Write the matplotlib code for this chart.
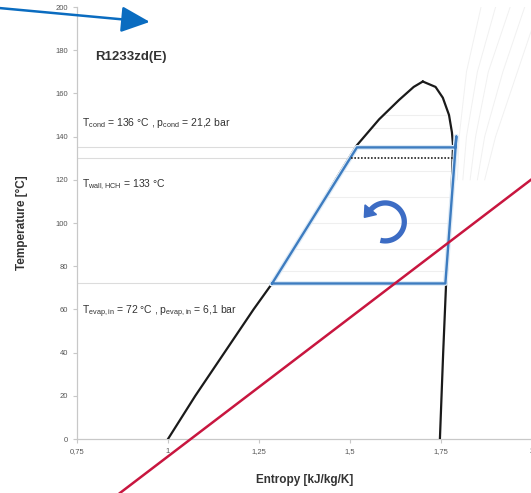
import numpy as np
import matplotlib
matplotlib.use("Agg")
import matplotlib.pyplot as plt
from matplotlib.patches import Polygon
from matplotlib.transforms import ScaledTranslation

plt.rcParams['font.family'] = ['Liberation Sans', 'DejaVu Sans']
plt.rcParams['mathtext.fontset'] = 'custom'
plt.rcParams['mathtext.rm'] = 'Liberation Sans'

# saturation dome of R1233zd(E)
liq_T = [0, 20, 40, 60, 72, 100, 120, 136, 148, 157, 163, 165.5]
liq_s = [1.0, 1.075, 1.155, 1.235, 1.286, 1.39, 1.46, 1.519, 1.58, 1.635, 1.675, 1.70]
vap_T = [165.5, 163, 158, 150, 142, 136, 120, 100, 72, 40, 0]
vap_s = [1.70, 1.735, 1.755, 1.772, 1.78, 1.783, 1.78, 1.775, 1.764, 1.756, 1.747]

# cycle (blue)
cyc_s = [1.286, 1.519, 1.79, 1.792, 1.79, 1.762, 1.286]
cyc_T = [72, 135, 135, 140, 135, 72, 72]
T_cond = 135
T_wall = 130
T_evap = 72

# faint background isotherms / isobars
dome_levels = [150, 144, 124, 112, 100, 88, 78]
iso_T = [200, 170, 140, 120]
iso_s = [[1.86, 1.82, 1.80, 1.795],
         [1.90, 1.85, 1.82, 1.81],
         [1.94, 1.88, 1.845, 1.83],
         [1.98, 1.92, 1.87, 1.85],
         [2.02, 1.96, 1.90, 1.87]]

# overlay marks
red_s = [0.868, 1.997]
red_T = [-25, 120]
arrow_start = (0.538, 199.5)
arrow_end = (0.95, 193.1)
rot_center = (1.597, 100.5)

xticks = [0.75, 1.0, 1.25, 1.5, 1.75, 2.0]
xtick_labels = ['0,75', '1', '1,25', '1,5', '1,75', '2']
yticks = list(range(0, 201, 20))

fig = plt.figure(figsize=(5.31, 4.93), dpi=100)
ax = fig.add_axes([77 / 531, 54 / 493, 455 / 531, 432 / 493])
ax.set_xlim(0.75, 2.0)
ax.set_ylim(0, 200)

def liq_at(T):
    return np.interp(T, liq_T, liq_s)

def vap_at(T):
    return np.interp(T, vap_T[::-1], vap_s[::-1])

# background faint lines
for c in iso_s:
    ax.plot(c, iso_T, color='#f1f1f1', lw=0.7, zorder=1)
for T in dome_levels:
    ax.plot([liq_at(T), vap_at(T)], [T, T], color='#efefef', lw=0.8, zorder=1)
for T in [T_cond, T_wall, T_evap]:
    ax.plot([0.75, liq_at(T)], [T, T], color='#dcdcdc', lw=0.8, zorder=1)

# dome
ax.plot(liq_s, liq_T, color='#1a1a1a', lw=1.6, zorder=3)
ax.plot(vap_s, vap_T, color='#1a1a1a', lw=1.6, zorder=3)

# cycle
ax.plot(cyc_s, cyc_T, color='#deebf7', lw=3.5, zorder=4)
ax.plot(cyc_s, cyc_T, color='#3d7cc0', lw=1.7, zorder=5)
ax.plot([liq_at(T_wall) + 0.005, vap_at(T_wall)], [T_wall, T_wall],
        color='#222222', lw=1.2, ls=(0, (1, 1)), zorder=5)

# rotation arrow (drawn in inches around a data point)
tr = fig.dpi_scale_trans + ScaledTranslation(rot_center[0], rot_center[1], ax.transData)
r = 0.19
a_end = np.radians(140)
ang = np.radians(np.linspace(-105, 140, 60))
ax.plot(r * np.cos(ang), r * np.sin(ang), color='#3c6cc4', lw=3.8,
        solid_capstyle='butt', transform=tr, zorder=6)
p0 = np.array([r * np.cos(a_end), r * np.sin(a_end)])
tang = np.array([-np.sin(a_end), np.cos(a_end)])
norm = np.array([np.cos(a_end), np.sin(a_end)])
head = [p0 + tang * 0.10, p0 + norm * 0.075, p0 - norm * 0.075]
ax.add_patch(Polygon(head, closed=True, color='#3c6cc4', transform=tr, zorder=6))

# overlay lines
ax.plot(red_s, red_T, color='#c8163f', lw=1.8, clip_on=False, zorder=7)
ax.annotate('', xy=arrow_end, xytext=arrow_start, annotation_clip=False,
            arrowprops=dict(arrowstyle='-|>,head_length=1.1,head_width=0.5',
                            mutation_scale=16, color='#0a6cc0', lw=1.8,
                            shrinkA=0, shrinkB=0), zorder=7)

# texts
ax.text(0.7995, 177, 'R1233zd(E)', fontsize=9.5, fontweight='bold',
        color='#333333', va='center')
ax.text(0.7637, 146.3, r'T$_{\rm cond}$ = 136 °C , p$_{\rm cond}$ = 21,2 bar',
        fontsize=7.5, color='#333333', va='center')
ax.text(0.7637, 117.6, r'T$_{\rm wall,HCH}$ = 133 °C',
        fontsize=7.5, color='#333333', va='center')
ax.text(0.7637, 58.8, r'T$_{\rm evap,in}$ = 72 °C , p$_{\rm evap,in}$ = 6,1 bar',
        fontsize=7.5, color='#333333', va='center', zorder=8,
        bbox=dict(facecolor='white', edgecolor='none', pad=0.5))

# axes styling
for side in ['top', 'right']:
    ax.spines[side].set_visible(False)
for side in ['left', 'bottom']:
    ax.spines[side].set_color('#c8c8c8')
    ax.spines[side].set_linewidth(0.9)
ax.set_xticks(xticks)
ax.set_xticklabels(xtick_labels)
ax.set_yticks(yticks)
ax.tick_params(axis='both', labelsize=5.5, labelcolor='#555555', color='#c8c8c8',
               length=3, width=0.8)
ax.set_xlabel('Entropy [kJ/kg/K]', fontsize=8.5, fontweight='bold', color='#333333',
              labelpad=14)
ax.set_ylabel('Temperature [°C]', fontsize=8.5, fontweight='bold', color='#333333',
              labelpad=20)

fig.savefig('out.png', dpi=100)
